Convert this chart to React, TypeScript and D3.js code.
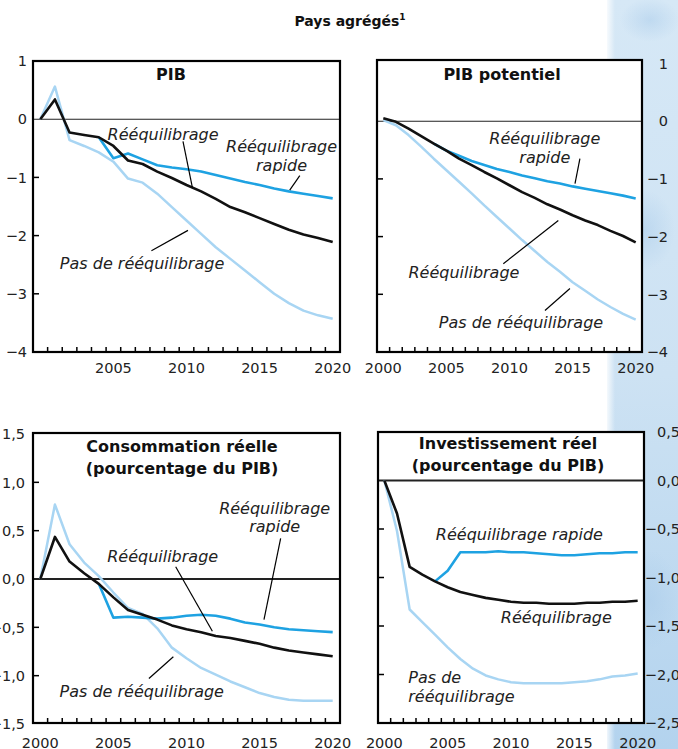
import React from "react";
import * as d3 from "d3";

// years shown on every panel
const years = [
  2000, 2001, 2002, 2003, 2004, 2005, 2006, 2007, 2008, 2009, 2010,
  2011, 2012, 2013, 2014, 2015, 2016, 2017, 2018, 2019, 2020,
];

// PIB
const pibReeq = [0, 0.34, -0.23, -0.27, -0.31, -0.46, -0.71, -0.77, -0.9, -1.01, -1.13, -1.24, -1.37, -1.51, -1.6, -1.7, -1.8, -1.9, -1.98, -2.04, -2.11];
const pibRapide = [null, null, null, null, -0.31, -0.67, -0.59, -0.69, -0.79, -0.83, -0.86, -0.9, -0.96, -1.02, -1.08, -1.13, -1.19, -1.24, -1.28, -1.32, -1.36];
const pibPas = [0, 0.56, -0.36, -0.46, -0.57, -0.73, -1.02, -1.09, -1.28, -1.51, -1.74, -1.97, -2.2, -2.4, -2.6, -2.8, -3.0, -3.16, -3.29, -3.37, -3.43];

// PIB potentiel
const potReeq = [0.05, -0.01, -0.13, -0.26, -0.39, -0.51, -0.65, -0.76, -0.88, -0.99, -1.11, -1.23, -1.33, -1.44, -1.53, -1.63, -1.72, -1.8, -1.9, -1.99, -2.1];
const potRapide = [null, null, null, null, -0.39, -0.51, -0.6, -0.69, -0.76, -0.83, -0.88, -0.94, -0.99, -1.04, -1.08, -1.13, -1.17, -1.21, -1.25, -1.29, -1.34];
const potPas = [0.02, -0.07, -0.24, -0.44, -0.65, -0.85, -1.05, -1.25, -1.46, -1.66, -1.86, -2.06, -2.25, -2.44, -2.61, -2.79, -2.94, -3.09, -3.22, -3.34, -3.44];

// Consommation réelle
const consReeq = [0, 0.435, 0.18, 0.06, -0.05, -0.19, -0.32, -0.37, -0.42, -0.48, -0.52, -0.55, -0.59, -0.61, -0.64, -0.67, -0.71, -0.74, -0.76, -0.78, -0.8];
const consRapide = [null, null, null, null, -0.05, -0.4, -0.39, -0.4, -0.41, -0.4, -0.38, -0.37, -0.38, -0.41, -0.45, -0.47, -0.5, -0.52, -0.53, -0.54, -0.55];
const consPas = [0, 0.77, 0.36, 0.17, 0.03, -0.14, -0.3, -0.36, -0.51, -0.71, -0.82, -0.92, -0.99, -1.06, -1.12, -1.18, -1.22, -1.25, -1.26, -1.26, -1.26];

// Investissement réel
const invReeq = [0, -0.34, -0.89, -0.97, -1.04, -1.1, -1.15, -1.18, -1.21, -1.23, -1.25, -1.26, -1.26, -1.27, -1.27, -1.27, -1.26, -1.26, -1.25, -1.25, -1.24];
const invRapide = [null, null, null, null, -1.04, -0.93, -0.74, -0.74, -0.74, -0.73, -0.74, -0.74, -0.75, -0.76, -0.77, -0.77, -0.76, -0.75, -0.75, -0.74, -0.74];
const invPas = [0, -0.52, -1.33, -1.46, -1.59, -1.72, -1.84, -1.94, -2.01, -2.05, -2.08, -2.09, -2.09, -2.09, -2.09, -2.08, -2.07, -2.05, -2.02, -2.01, -1.99];

const yTicksPib = [1, 0, -1, -2, -3, -4];
const yTicksPibLabels = ["1", "0", "−1", "−2", "−3", "−4"];
const yTicksCons = [1.5, 1, 0.5, 0, -0.5, -1, -1.5];
const yTicksConsLabels = ["1,5", "1,0", "0,5", "0,0", "−0,5", "−1,0", "−1,5"];
const yTicksInv = [0.5, 0, -0.5, -1, -1.5, -2, -2.5];
const yTicksInvLabels = ["0,5", "0,0", "−0,5", "−1,0", "−1,5", "−2,0", "−2,5"];
const xLabelsAll = [2000, 2005, 2010, 2015, 2020];
const xLabelsNo2000 = [2005, 2010, 2015, 2020];

const BLACK = "#111";
const RAPIDE = "#1ea2e2";
const PAS = "#a8d5f3";
const FONT = "DejaVu Sans, sans-serif";

type Note = { lines: string[]; at: [number, number]; anchor?: string; leader?: [number, number, number, number] };

type PanelCfg = {
  x0: number; x1: number; top: number; bottom: number;
  yDomain: [number, number]; yRange: [number, number];
  ticks: number[]; tickLabels: string[];
  labelX: number;
  xLabels: number[]; xLabelY: number;
  title: string[]; titleX: number; titleY: number;
  zeroWidth: number;
  reeq: number[]; rapide: (number | null)[]; pas: number[];
  notes: Note[];
};

const panels: PanelCfg[] = [
  {
    x0: 33, x1: 340, top: 61, bottom: 352,
    yDomain: [-4, 1], yRange: [352, 61],
    ticks: yTicksPib, tickLabels: yTicksPibLabels, labelX: 27,
    xLabels: xLabelsNo2000, xLabelY: 373,
    title: ["PIB"], titleX: 171, titleY: 80, zeroWidth: 1.1,
    reeq: pibReeq, rapide: pibRapide, pas: pibPas,
    notes: [
      { lines: ["Rééquilibrage"], at: [2008.4, -0.36], leader: [2009.76, -0.38, 2010.4, -1.17] },
      { lines: ["Rééquilibrage", "rapide"], at: [2016.5, -0.57], leader: [2017.75, -0.97, 2017.06, -1.22] },
      { lines: ["Pas de rééquilibrage"], at: [2006.96, -2.57], leader: [2007.6, -2.26, 2010.1, -1.91] },
    ],
  },
  {
    x0: 377, x1: 642, top: 60, bottom: 352,
    yDomain: [-4, 1], yRange: [352, 63.5],
    ticks: yTicksPib, tickLabels: yTicksPibLabels, labelX: 668,
    xLabels: xLabelsAll, xLabelY: 373,
    title: ["PIB potentiel"], titleX: 502, titleY: 80, zeroWidth: 1.1,
    reeq: potReeq, rapide: potRapide, pas: potPas,
    notes: [
      { lines: ["Rééquilibrage", "rapide"], at: [2012.8, -0.4], leader: [2015.58, -0.65, 2015.19, -1.08] },
      { lines: ["Rééquilibrage"], at: [2006.39, -2.72], leader: [2009.51, -2.47, 2013.87, -1.72] },
      { lines: ["Pas de rééquilibrage"], at: [2010.91, -3.58], leader: [2012.81, -3.28, 2014.79, -2.9] },
    ],
  },
  {
    x0: 33, x1: 340, top: 433, bottom: 723,
    yDomain: [-1.5, 1.5], yRange: [724, 434],
    ticks: yTicksCons, tickLabels: yTicksConsLabels, labelX: 25,
    xLabels: xLabelsAll, xLabelY: 748,
    title: ["Consommation réelle", "(pourcentage du PIB)"], titleX: 182, titleY: 452, zeroWidth: 1.8,
    reeq: consReeq, rapide: consRapide, pas: consPas,
    notes: [
      { lines: ["Rééquilibrage", "rapide"], at: [2016.03, 0.675], leader: [2016.44, 0.42, 2015.3, -0.42] },
      { lines: ["Rééquilibrage"], at: [2008.37, 0.18], leader: [2009.26, 0.126, 2011.77, -0.54] },
      { lines: ["Pas de rééquilibrage"], at: [2006.94, -1.216], leader: [2007.43, -1.03, 2009.1, -0.805] },
    ],
  },
  {
    x0: 378, x1: 644, top: 432, bottom: 723,
    yDomain: [-2.5, 0.5], yRange: [723, 432],
    ticks: yTicksInv, tickLabels: yTicksInvLabels, labelX: 680,
    xLabels: xLabelsAll, xLabelY: 748,
    title: ["Investissement réel", "(pourcentage du PIB)"], titleX: 508, titleY: 449, zeroWidth: 1.8,
    reeq: invReeq, rapide: invRapide, pas: invPas,
    notes: [
      { lines: ["Rééquilibrage rapide"], at: [2010.66, -0.61] },
      { lines: ["Rééquilibrage"], at: [2013.58, -1.47] },
      { lines: ["Pas de", "rééquilibrage"], at: [2001.89, -2.09], anchor: "start" },
    ],
  },
];

function Panel({ cfg }: { cfg: PanelCfg }) {
  const x = d3.scaleLinear().domain([1999.5, 2020.5]).range([cfg.x0, cfg.x1]);
  const y = d3.scaleLinear().domain(cfg.yDomain).range(cfg.yRange);
  const line = d3
    .line<number | null>()
    .defined((d) => d != null)
    .x((_, i) => x(years[i]))
    .y((d) => y(d as number));

  const minorTicks = years.slice(1).map((yr) => yr - 0.5);
  const [yMin, yMax] = cfg.yDomain;

  return (
    <g>
      <rect x={cfg.x0} y={cfg.top} width={cfg.x1 - cfg.x0} height={cfg.bottom - cfg.top} fill="#fff" />
      {/* zero line */}
      <line x1={cfg.x0} x2={cfg.x1} y1={y(0)} y2={y(0)} stroke="#222" strokeWidth={cfg.zeroWidth} />
      {/* series */}
      <path d={line(cfg.pas) || ""} fill="none" stroke={PAS} strokeWidth={2.5} strokeLinejoin="round" />
      <path d={line(cfg.rapide) || ""} fill="none" stroke={RAPIDE} strokeWidth={2.6} strokeLinejoin="round" />
      <path d={line(cfg.reeq) || ""} fill="none" stroke={BLACK} strokeWidth={2.6} strokeLinejoin="round" />
      {/* frame */}
      <rect x={cfg.x0} y={cfg.top} width={cfg.x1 - cfg.x0} height={cfg.bottom - cfg.top} fill="none" stroke="#000" strokeWidth={2.2} />
      {/* bottom ticks */}
      {minorTicks.map((t) => (
        <line key={t} x1={x(t)} x2={x(t)} y1={cfg.bottom} y2={cfg.bottom - 5} stroke="#000" strokeWidth={1.5} />
      ))}
      {/* left inward ticks */}
      {cfg.ticks
        .filter((t) => t !== yMin && t !== yMax && t !== 0)
        .map((t) => (
          <line key={t} x1={cfg.x0} x2={cfg.x0 + 6} y1={y(t)} y2={y(t)} stroke="#000" strokeWidth={1.5} />
        ))}
      {/* y labels */}
      {cfg.ticks.map((t, i) => (
        <text key={t} x={cfg.labelX} y={y(t)} dy="0.36em" textAnchor="end" fontSize={14.5} fontFamily={FONT} fill="#222">
          {cfg.tickLabels[i]}
        </text>
      ))}
      {/* x labels */}
      {cfg.xLabels.map((yr) => (
        <text key={yr} x={x(yr)} y={cfg.xLabelY} textAnchor="middle" fontSize={14.5} fontFamily={FONT} fill="#222">
          {yr}
        </text>
      ))}
      {/* title */}
      {cfg.title.map((t, i) => (
        <text key={t} x={cfg.titleX} y={cfg.titleY + i * 21.5} textAnchor="middle" fontSize={16} fontWeight="bold" fontFamily={FONT} fill="#111">
          {t}
        </text>
      ))}
      {/* annotations */}
      {cfg.notes.map((n, k) => (
        <g key={k}>
          {n.leader && (
            <line x1={x(n.leader[0])} y1={y(n.leader[1])} x2={x(n.leader[2])} y2={y(n.leader[3])} stroke="#000" strokeWidth={1.2} />
          )}
          {n.lines.map((l, i) => (
            <text key={i} x={x(n.at[0])} y={y(n.at[1]) + i * 18.5} textAnchor={n.anchor || "middle"} fontSize={16} fontStyle="italic" fontFamily={FONT} fill="#222">
              {l}
            </text>
          ))}
        </g>
      ))}
    </g>
  );
}

export default function App() {
  return (
    <svg width={678} height={749} style={{ position: "absolute", left: 0, top: 0 }} fontFamily={FONT}>
      <defs>
        <linearGradient id="strip" x1="0" y1="0" x2="0" y2="1">
          <stop offset="0" stopColor="#d6e8f6" />
          <stop offset="0.5" stopColor="#cde2f3" />
          <stop offset="1" stopColor="#b3d3ee" />
        </linearGradient>
        <linearGradient id="stripEdge" x1="0" y1="0" x2="1" y2="0">
          <stop offset="0" stopColor="#fff" stopOpacity="0.8" />
          <stop offset="1" stopColor="#fff" stopOpacity="0" />
        </linearGradient>
        <radialGradient id="blot">
          <stop offset="0" stopColor="#a9cbea" stopOpacity="0.5" />
          <stop offset="1" stopColor="#a9cbea" stopOpacity="0" />
        </radialGradient>
      </defs>
      <rect width={678} height={749} fill="#fff" />
      {/* decorative blue margin strip */}
      <rect x={607} y={0} width={71} height={749} fill="url(#strip)" />
      <ellipse cx={650} cy={20} rx={30} ry={22} fill="url(#blot)" />
      <ellipse cx={645} cy={230} rx={30} ry={40} fill="url(#blot)" />
      <ellipse cx={650} cy={600} rx={30} ry={50} fill="url(#blot)" />
      <rect x={607} y={0} width={8} height={749} fill="url(#stripEdge)" />
      <text x={350} y={26} textAnchor="middle" fontSize={14} fontWeight="bold" fontFamily={FONT} fill="#111">
        Pays agrégés
        <tspan fontSize={9} dy={-6}>1</tspan>
      </text>
      {panels.map((p, i) => (
        <Panel key={i} cfg={p} />
      ))}
    </svg>
  );
}
